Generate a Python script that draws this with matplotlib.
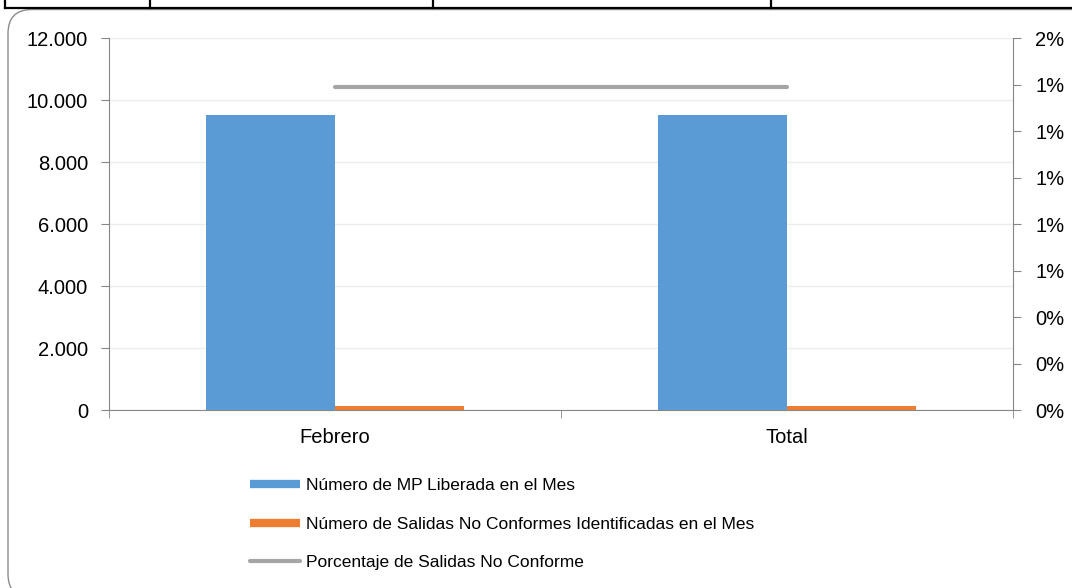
import matplotlib
matplotlib.use("Agg")
import matplotlib.pyplot as plt
from matplotlib.patches import FancyBboxPatch
from matplotlib.lines import Line2D
from matplotlib.transforms import IdentityTransform
from matplotlib.ticker import FixedLocator, FuncFormatter, MultipleLocator
import numpy as np

# ---- data ----
categories = ["Febrero", "Total"]
mp_liberada = [9520, 9520]
salidas_nc = [132, 132]
porcentaje_nc = [0.0139, 0.0139]
series_labels = [
    "Número de MP Liberada en el Mes",
    "Número de Salidas No Conformes Identificadas en el Mes",
    "Porcentaje de Salidas No Conforme",
]

plt.rcParams["font.family"] = ["Liberation Sans", "DejaVu Sans"]

W, H = 1072, 588
fig = plt.figure(figsize=(W / 100, H / 100), dpi=100)

# outer rounded frame
frame = FancyBboxPatch((8, -10), 1088, 588 - 9.5 + 10,
                       boxstyle="round,pad=0,rounding_size=24",
                       transform=IdentityTransform(), facecolor="none",
                       edgecolor="#8c8c8c", linewidth=1.0, zorder=-1)
fig.patches.append(frame)

# table borders at top
def fx(px):
    return px / W
def fy(py):
    return 1 - py / H
fig.lines.append(Line2D([fx(5), fx(1072)], [fy(8), fy(8)], color="black", lw=1.6,
                        transform=fig.transFigure))
for xv in [5, 150, 433, 771]:
    fig.lines.append(Line2D([fx(xv), fx(xv)], [fy(0), fy(8)], color="black", lw=1.6,
                            transform=fig.transFigure))

left, right = 109 / W, 1013 / W
bottom, top = 1 - 410.3 / H, 1 - 38.3 / H
ax = fig.add_axes([left, bottom, right - left, top - bottom])
ax.set_facecolor("none")
ax2 = ax.twinx()

x = np.arange(len(categories))
bw = 0.285
blue, orange, gray = "#5B9BD5", "#ED7D31", "#A5A5A5"
b1 = ax.bar(x - bw / 2, mp_liberada, width=bw, color=blue, zorder=3)
b2 = ax.bar(x + bw / 2, salidas_nc, width=bw, color=orange, zorder=3)
ln, = ax2.plot(x, porcentaje_nc, color=gray, lw=3.0, solid_capstyle="round", zorder=4)

ax.set_xlim(-0.5, len(categories) - 0.5)
ax.set_ylim(0, 12000)
ax.yaxis.set_major_locator(MultipleLocator(2000))
ax.yaxis.set_major_formatter(FuncFormatter(lambda v, p: f"{int(v):,}".replace(",", ".")))
ax.grid(axis="y", color="#ececec", lw=1.0, zorder=0)
ax.set_axisbelow(True)

ax2.set_ylim(0, 0.016)
ax2.yaxis.set_major_locator(MultipleLocator(0.002))
ax2.yaxis.set_major_formatter(FuncFormatter(lambda v, p: f"{v * 100:.0f}%"))

spine_c = "#868686"
for a in (ax, ax2):
    for s in a.spines.values():
        s.set_visible(False)
ax.spines["left"].set_visible(True)
ax.spines["left"].set_color(spine_c)
ax.spines["bottom"].set_visible(True)
ax.spines["bottom"].set_color(spine_c)
ax2.spines["right"].set_visible(True)
ax2.spines["right"].set_color(spine_c)

ax.set_xticks(x)
ax.set_xticklabels(categories)
ax.xaxis.set_minor_locator(FixedLocator([-0.5, 0.5, 1.5]))
ax.tick_params(axis="x", which="major", length=0, pad=13, labelsize=14.5, colors="black")
ax.tick_params(axis="x", which="minor", length=6, color=spine_c, direction="out")
ax.tick_params(axis="y", length=6, color=spine_c, pad=9, labelsize=14.5, labelcolor="black")
ax2.tick_params(axis="y", length=6, color=spine_c, pad=10, labelsize=14.5, labelcolor="black")

handles = [Line2D([0], [0], color=blue, lw=6, solid_capstyle="butt"),
           Line2D([0], [0], color=orange, lw=6, solid_capstyle="butt"),
           Line2D([0], [0], color=gray, lw=3, solid_capstyle="round")]
fig.legend(handles, series_labels, loc="upper left",
           bbox_to_anchor=(250 / W, 1 - 478 / H), frameon=False,
           fontsize=12.5, handlelength=2.9, handletextpad=0.35,
           labelspacing=1.35, borderaxespad=0, borderpad=0)

fig.savefig("out.png", dpi=100, facecolor="white")
